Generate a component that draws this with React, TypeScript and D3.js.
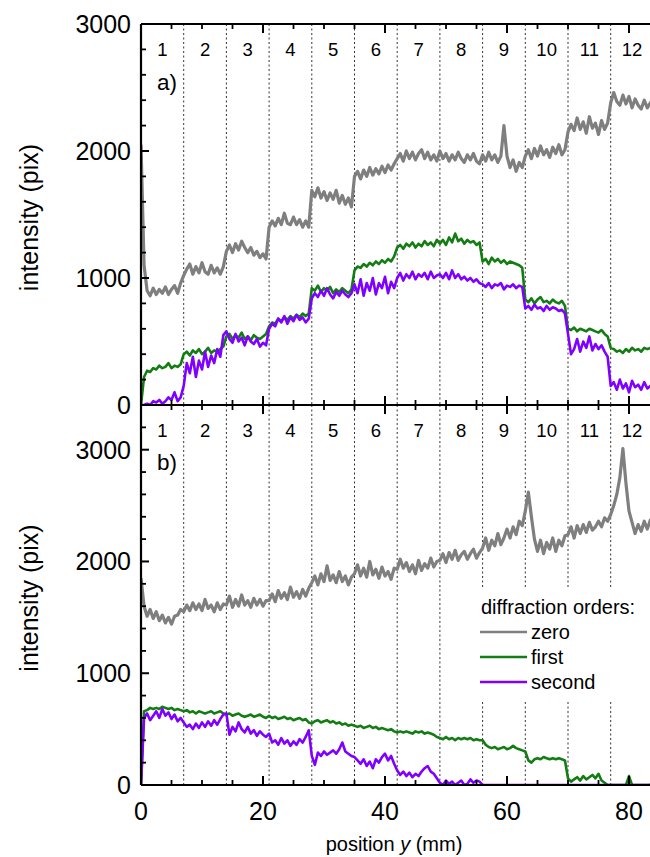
import React from "react";
import * as d3 from "d3";

// sampling step of the traces along the position axis (mm)
const STEP_MM = 0.5;

const regionLabels = ["1", "2", "3", "4", "5", "6", "7", "8", "9", "10", "11", "12"];
const regionBounds = [7, 14, 21, 28, 35, 42, 49, 56, 63, 70, 77];
const xMajorTicks = [0, 20, 40, 60, 80];
const yMajorTicks = [0, 1000, 2000, 3000];

// ---- panel a) ----
const zeroA = [
  2050, 1100, 900, 860, 920, 870, 910, 880, 930, 870, 910, 940, 880, 960,
  1020, 1070, 1110, 1030, 1090, 1040, 1120, 1050, 1030, 1100, 1040, 1080, 1030, 1090,
  1210, 1260, 1200, 1270, 1220, 1290, 1240, 1200, 1240, 1180, 1210, 1160, 1190, 1150,
  1400, 1450, 1410, 1470, 1420, 1510, 1430, 1420, 1480, 1420, 1460, 1400, 1450, 1400,
  1690, 1640, 1710, 1630, 1680, 1610, 1670, 1620, 1690, 1590, 1650, 1580, 1630, 1560,
  1800, 1840, 1780, 1850, 1800, 1870, 1810, 1860, 1820, 1880, 1830, 1890, 1850, 1900,
  1940, 1980, 1920, 2000, 1940, 1990, 1930, 1980, 2010, 1940, 1990, 1930, 1970, 1920,
  2000, 1940, 1980, 1920, 1970, 1930, 1990, 1940, 1910, 1970, 1930, 1980, 1920, 1900,
  1970, 1920, 1990, 1930, 1970, 1910, 1960, 2200, 1960, 1870, 1930, 1840, 1910, 1870,
  1960, 2010, 1940, 2020, 1960, 2040, 1970, 2010, 1950, 2030, 1980, 2050, 1970, 2010,
  2150, 2210, 2160, 2260, 2170, 2230, 2140, 2270, 2180, 2220, 2130, 2240, 2170, 2220,
  2380, 2460, 2390, 2360, 2440, 2370, 2430, 2340, 2410, 2360, 2330, 2400, 2340, 2380, 2340,
];
const firstA = [
  0, 220, 270, 260, 290, 280, 310, 290, 300, 330, 290, 310, 300, 320,
  400, 420, 390, 430, 410, 440, 400, 420, 450, 410, 430, 420, 440, 460,
  540, 560, 520, 550, 530, 570, 520, 540, 510, 550, 530, 520, 540, 560,
  620, 650, 640, 680, 660, 690, 670, 700, 680, 710, 690, 720, 700, 720,
  920, 900, 940, 890, 920, 900, 930, 880, 910, 890, 920, 900, 880, 910,
  1060, 1090, 1080, 1110, 1090, 1120, 1100, 1130, 1110, 1140, 1120, 1150, 1130, 1170,
  1240, 1260, 1230, 1270, 1250, 1280, 1240, 1270, 1250, 1290, 1260, 1280, 1250, 1300,
  1270, 1300, 1260, 1320, 1280, 1350, 1290, 1310, 1270, 1300, 1280, 1290, 1260, 1280,
  1130, 1150, 1110, 1160, 1130, 1150, 1120, 1140, 1110, 1130, 1120, 1110, 1100, 1080,
  830, 810, 840, 800, 830, 850, 810, 820, 800, 830, 810, 800, 820, 780,
  600, 590, 610, 580, 600, 590, 580, 600, 590, 580, 570, 590, 560, 540,
  450, 440, 420, 430, 410, 440, 420, 450, 430, 440, 420, 450, 440, 450, 460,
];
const secondA = [
  0, 0, 10, 0, 30, 20, 40, 10, 30, 60, 40, 100, 30, 60,
  150, 330, 250, 380, 220, 350, 280, 420, 300, 390, 330, 440, 380, 550,
  580, 520, 490, 560, 500, 530, 470, 540, 500, 480, 520, 460, 490, 470,
  600, 640, 620, 680, 650, 700, 640, 690, 660, 710, 670, 690, 650, 680,
  840, 880, 850, 900, 860, 920, 870, 840, 890, 860, 900, 870, 850, 880,
  950, 880, 990, 860, 960, 900, 1000, 870, 960, 920, 1010, 880, 970, 920,
  1000, 1040, 980, 1030, 1000, 1050, 990, 1030, 1010, 1040, 990, 1050, 1000, 1020,
  1030, 1000, 1040, 990, 1060, 1000, 1030, 990, 1010, 980, 1000, 970, 990, 960,
  950, 930, 960, 920, 950, 940, 960, 910, 940, 930, 950, 920, 940, 930,
  760, 780, 750, 790, 760, 770, 740, 780, 750, 770, 760, 740, 750, 720,
  560, 400, 440, 520, 420, 500, 450, 540, 430, 480, 440, 470, 420, 380,
  150, 180, 120, 200, 130, 170, 100, 190, 140, 160, 120, 180, 130, 150, 170,
];

// ---- panel b) ----
const zeroB = [
  1850, 1600, 1510, 1570, 1490, 1550, 1470, 1520, 1450, 1500, 1440, 1510, 1520, 1570,
  1550, 1610, 1560, 1630, 1570, 1620, 1560, 1660, 1580, 1610, 1550, 1630, 1570, 1620,
  1610, 1690, 1590, 1660, 1600, 1700, 1610, 1650, 1590, 1670, 1610, 1660, 1600, 1650,
  1650, 1710, 1640, 1740, 1670, 1720, 1660, 1770, 1680, 1730, 1670, 1750, 1690, 1760,
  1810, 1870, 1790, 1890, 1820, 1960, 1830, 1880, 1810, 1910, 1820, 1870, 1790, 1860,
  1890, 1970, 1870, 1940, 1860, 2000, 1880, 1930, 1850, 1950, 1870, 1910, 1840, 1940,
  1930, 2020, 1940, 1990, 1910, 1970, 1890, 2010, 1920, 1980, 1940, 2030, 1950, 2000,
  2010, 2070, 1990, 2080, 2020, 2100, 2010, 2060, 2090, 2020, 2070, 2110, 2030, 2080,
  2120, 2210, 2100, 2190, 2140, 2250, 2150, 2210, 2290, 2210, 2310, 2240, 2360, 2320,
  2450, 2620, 2400, 2200, 2090, 2190, 2070, 2170, 2110, 2210, 2090, 2190, 2140, 2230,
  2240, 2310, 2210, 2320, 2250, 2330, 2260, 2350, 2280, 2310, 2360, 2310, 2390, 2360,
  2420, 2500, 2600, 2750, 3010, 2700, 2450, 2350, 2250, 2330, 2270, 2360, 2290, 2370, 2320,
];
const firstB = [
  0, 660, 670, 690, 680, 690, 680, 700, 690, 680, 690, 670, 680, 670,
  660, 670, 650, 660, 640, 660, 650, 640, 650, 660, 640, 650, 660, 640,
  630, 640, 620, 630, 640, 620, 610, 620, 630, 610, 620, 630, 610, 600,
  620, 600, 610, 590, 600, 610, 590, 600, 580, 590, 600, 580, 590, 560,
  550, 570, 580, 560, 570, 580, 560, 570, 550, 560, 540, 550, 530, 540,
  530, 520, 530, 510, 520, 530, 510, 520, 500, 510, 500, 490, 500, 480,
  470, 480, 470, 480, 470, 460, 480, 470, 480, 460, 470, 460, 450, 430,
  420, 410, 430, 410, 420, 400, 420, 410, 420, 410, 420, 400, 410, 400,
  400, 360, 340, 330, 340, 320, 330, 340, 320, 330, 350, 330, 320, 310,
  300, 220, 200, 230, 240, 230, 250, 240, 230, 240, 230, 240, 230, 220,
  60, 30, 50, 70, 40, 80, 50, 70, 90, 60, 100, 40, 20, 0,
  0, 0, 0, 0, 0, 0, 80, 0, 0, 0, 0, 0, 0, 0, 60,
];
const secondB = [
  0, 600, 640, 580, 620, 660, 600, 680, 620, 650, 590, 630, 570, 600,
  560, 520, 540, 500, 550, 510, 560, 520, 570, 530, 580, 540, 590, 630,
  640, 450, 520, 480, 560, 500, 470, 520, 460, 490, 440, 480, 450, 430,
  460, 380, 400, 360, 420, 370, 400, 350, 390, 360, 410, 380, 430, 490,
  260, 180, 290, 260, 300, 270, 290, 310, 280, 320, 380, 300, 280, 260,
  250, 220, 190, 230, 170, 210, 150, 230, 200, 250, 280, 220, 260, 190,
  130, 90, 120, 80, 110, 70, 100, 80, 120, 150, 170, 120, 100, 60,
  20, 0, 40, 10, 30, 0, 20, 40, 0, 10, 50, 20, 40, 30,
  0, 0, 0, 0, 0, 0, 0, 0, 0, 0, 0, 0, 0, 0,
  0, 0, 0, 0, 0, 0, 0, 0, 0, 0, 0, 0, 0, 0,
  0, 0, 0, 0, 0, 0, 0, 0, 0, 0, 0, 0, 0, 0,
  0, 0, 0, 0, 0, 0, 0, 0, 0, 0, 0, 0, 0, 0, 0,
];

const seriesNames = ["zero", "first", "second"];
const seriesColors = ["#7f7f7f", "#137d13", "#8000ff"];

const FONT = "Arial, 'Liberation Sans', Helvetica, sans-serif";

export default function App() {
  const W = 650;
  const H = 857;
  const x = d3.scaleLinear().domain([0, 80]).range([141, 629]);
  const xEnd = 86;
  const left = x(0);
  const right = x(xEnd);
  const ya = d3.scaleLinear().domain([0, 3000]).range([405, 24]);
  const yb = d3.scaleLinear().domain([0, 3400]).range([785, 405]);

  const xMinor = d3.range(0, xEnd + 0.1, 5).filter((v) => !xMajorTicks.includes(v));
  const yMinorA = d3.range(0, 3001, 200).filter((v) => !yMajorTicks.includes(v));
  const yMinorB = d3.range(0, 3401, 200).filter((v) => !yMajorTicks.includes(v));

  const mkLine = (y: d3.ScaleLinear<number, number>) =>
    d3
      .line<number>()
      .x((_, i) => x(i * STEP_MM))
      .y((v) => y(v));

  const lineA = mkLine(ya);
  const lineB = mkLine(yb);

  const panelA = [zeroA, firstA, secondA];
  const panelB = [zeroB, firstB, secondB];

  const regionCenters = regionLabels.map((_, i) => i * 7 + 3.5);

  const renderPanel = (
    y: d3.ScaleLinear<number, number>,
    data: number[][],
    line: d3.Line<number>,
    clipId: string,
    labelY: number,
    tag: string,
    tagY: number,
    minor: number[]
  ) => {
    const top = y.range()[1];
    const bottom = y.range()[0];
    return (
      <g>
        <defs>
          <clipPath id={clipId}>
            <rect x={left} y={top} width={right - left} height={bottom - top} />
          </clipPath>
        </defs>
        {regionBounds.map((b) => (
          <line
            key={b}
            x1={x(b)}
            x2={x(b)}
            y1={top}
            y2={bottom}
            stroke="#333"
            strokeWidth={1}
            strokeDasharray="2,2.5"
          />
        ))}
        {regionLabels.map((l, i) => (
          <text
            key={l}
            x={x(regionCenters[i])}
            y={labelY}
            fontSize={18.5}
            textAnchor="middle"
            fill="#000"
          >
            {l}
          </text>
        ))}
        <text x={157} y={tagY} fontSize={22.5} fill="#000">
          {tag}
        </text>
        <g clipPath={`url(#${clipId})`}>
          {data.map((d, i) => (
            <path
              key={i}
              d={line(d) || ""}
              fill="none"
              stroke={seriesColors[i]}
              strokeWidth={i === 0 ? 3.2 : 2.6}
              strokeLinejoin="round"
            />
          ))}
        </g>
        {yMajorTicks.map((t) => (
          <g key={t}>
            <line x1={left} x2={left + 8} y1={y(t)} y2={y(t)} stroke="#000" strokeWidth={2} />
            <text x={131} y={y(t) + 9} fontSize={25} textAnchor="end" fill="#000">
              {t}
            </text>
          </g>
        ))}
        {minor.map((t) => (
          <line key={t} x1={left} x2={left + 5} y1={y(t)} y2={y(t)} stroke="#000" strokeWidth={1.8} />
        ))}
        {xMajorTicks.map((t) => (
          <g key={t}>
            <line x1={x(t)} x2={x(t)} y1={top} y2={top + 9} stroke="#000" strokeWidth={2} />
            <line x1={x(t)} x2={x(t)} y1={bottom} y2={bottom - 9} stroke="#000" strokeWidth={2} />
          </g>
        ))}
        {xMinor.map((t) => (
          <g key={t}>
            <line x1={x(t)} x2={x(t)} y1={top} y2={top + 5} stroke="#000" strokeWidth={1.8} />
            <line x1={x(t)} x2={x(t)} y1={bottom} y2={bottom - 5} stroke="#000" strokeWidth={1.8} />
          </g>
        ))}
        <line x1={left} x2={right} y1={top} y2={top} stroke="#000" strokeWidth={2.2} />
        <line x1={left} x2={right} y1={bottom} y2={bottom} stroke="#000" strokeWidth={2.2} />
        <line x1={left} x2={left} y1={top} y2={bottom} stroke="#000" strokeWidth={2.2} />
        <text
          transform={`translate(38, ${(top + bottom) / 2 + 3}) rotate(-90)`}
          fontSize={25}
          textAnchor="middle"
          fill="#000"
        >
          intensity (pix)
        </text>
      </g>
    );
  };

  const legendX = 480;
  const legendRows = [632, 657, 682];

  return (
    <svg
      width={W}
      height={H}
      style={{ position: "absolute", left: 0, top: 0 }}
      fontFamily={FONT}
    >
      <rect x={0} y={0} width={W} height={H} fill="#fff" />
      {renderPanel(ya, panelA, lineA, "clipA", 55.5, "a)", 89.5, yMinorA)}
      {renderPanel(yb, panelB, lineB, "clipB", 437, "b)", 470, yMinorB)}
      <rect x={470} y={587} width={180} height={113} fill="#fff" />
      <text x={481} y={613.5} fontSize={20} fill="#000">
        diffraction orders:
      </text>
      {seriesNames.map((n, i) => (
        <g key={n}>
          <line
            x1={legendX}
            x2={legendX + 47}
            y1={legendRows[i]}
            y2={legendRows[i]}
            stroke={seriesColors[i]}
            strokeWidth={2.3}
          />
          <text x={531} y={legendRows[i] + 6.5} fontSize={20} fill="#000">
            {n}
          </text>
        </g>
      ))}
      {xMajorTicks.map((t) => (
        <text key={t} x={x(t)} y={820} fontSize={25} textAnchor="middle" fill="#000">
          {t}
        </text>
      ))}
      <text x={394} y={851} fontSize={20} textAnchor="middle" fill="#000">
        position <tspan fontStyle="italic">y</tspan> (mm)
      </text>
    </svg>
  );
}
